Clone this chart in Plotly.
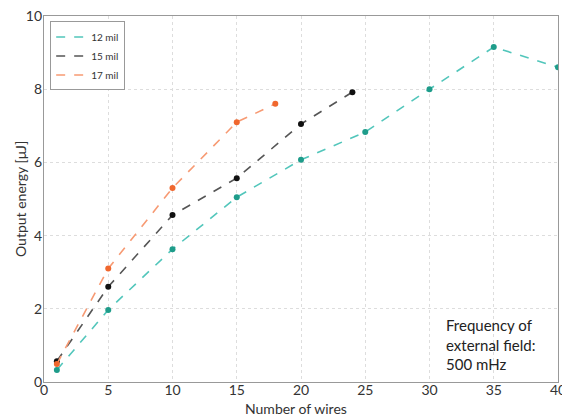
import plotly.graph_objects as go

x12 = [1, 5, 10, 15, 20, 25, 30, 35, 40]
y12 = [0.33, 1.97, 3.63, 5.05, 6.07, 6.83, 8.0, 9.15, 8.6]
x15 = [1, 5, 10, 15, 20, 24]
y15 = [0.57, 2.6, 4.56, 5.57, 7.05, 7.92]
x17 = [1, 5, 10, 15, 18]
y17 = [0.49, 3.1, 5.3, 7.1, 7.6]
x_ticks = [0, 5, 10, 15, 20, 25, 30, 35, 40]
y_ticks = [0, 2, 4, 6, 8, 10]

FONT = "Lato, Open Sans, sans-serif"
fig = go.Figure()
series = [
    ("12 mil", x12, y12, "#52c6bb", "#1e9c8a"),
    ("15 mil", x15, y15, "#555555", "#111111"),
    ("17 mil", x17, y17, "#f79a73", "#f0672e"),
]
for name, xs, ys, lc, mc in series:
    fig.add_trace(go.Scatter(
        x=xs, y=ys, name=name, mode="lines+markers", showlegend=False,
        line=dict(color=lc, width=1.6, dash="dash"),
        marker=dict(color=mc, size=6, symbol="circle"),
    ))
for name, xs, ys, lc, mc in series:
    fig.add_trace(go.Scatter(
        x=[None], y=[None], name=name, mode="lines",
        line=dict(color=lc, width=1.6, dash="dash"),
    ))

fig.add_annotation(
    x=0.778, y=0.02, xref="paper", yref="paper", xanchor="left", yanchor="bottom",
    text="Frequency of<br>external field:<br>500 mHz", showarrow=False, align="left",
    font=dict(size=15, color="#222", family=FONT),
)
fig.add_annotation(
    x=0.49, y=-26 / 366, xref="paper", yref="paper", xanchor="center", yanchor="middle",
    text="Number of wires", showarrow=False, font=dict(size=14, color="#333", family=FONT),
)
fig.add_annotation(
    x=-24 / 514, y=0.5, xref="paper", yref="paper", xanchor="center", yanchor="middle",
    text="Output energy [μJ]", textangle=-90, showarrow=False,
    font=dict(size=14, color="#333", family=FONT),
)

axis_common = dict(
    showline=True, linecolor="#999", linewidth=1.2, mirror=True,
    showgrid=True, gridcolor="#ddd", griddash="dot", gridwidth=1,
    zeroline=False, ticks="", tickfont=dict(size=14, color="#333", family=FONT),
    automargin=False, ticklabeloverflow="allow",
)
fig.update_xaxes(range=[0, 40], tickvals=x_ticks, ticklabelstandoff=-5, **axis_common)
fig.update_yaxes(range=[0, 10], tickvals=y_ticks, ticklabelstandoff=-2, **axis_common)

fig.update_layout(
    width=562, height=417,
    margin=dict(l=36, r=12, t=8, b=43),
    paper_bgcolor="white", plot_bgcolor="white",
    font=dict(family=FONT, size=13, color="#333"),
    legend=dict(x=0.012, y=0.985, xanchor="left", yanchor="top", bordercolor="#999", borderwidth=1,
                bgcolor="white", font=dict(size=10), tracegroupgap=0, itemwidth=30),
    showlegend=True,
)
fig.write_html("out.html")
